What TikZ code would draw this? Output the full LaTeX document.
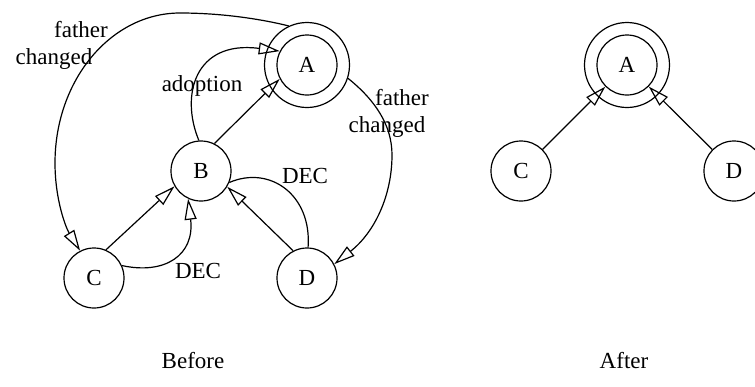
\documentclass[tikz,border=0pt]{standalone}
\usepackage{fontspec}
\setmainfont{Liberation Serif}
\usetikzlibrary{arrows.meta}
\begin{document}
\begin{tikzpicture}[x=1pt,y=-1pt,
  txt/.style={font=\fontsize{23}{27}\selectfont},
  state/.style={circle,draw,line width=1.2pt,minimum size=60pt,inner sep=0pt,txt},
  ring/.style={circle,draw,line width=1.2pt,minimum size=85pt,inner sep=0pt},
  edge/.style={line width=1.2pt,-{Triangle[open,length=21pt,width=12pt]}},
  plainedge/.style={line width=1.2pt},
  lbl/.style={anchor=base,inner sep=0pt,txt}]
\useasboundingbox (0,0) rectangle (755,386);

% ---- before ----
\node[ring]  (Aout) at (307,65) {};
\node[state] (A)    at (307,65) {A};
\node[state] (B)    at (201,171) {B};
\node[state] (C)    at (94,278) {C};
\node[state] (D)    at (307,278) {D};

% father changed, left loop to C
\draw[edge] (Aout.115) .. controls (265,20) and (225,13) .. (180,13)
  .. controls (111,13) and (55,80) .. (55,163)
  .. controls (55,200) and (66,228) .. (C.117);
% father changed, right loop to D
\draw[edge] (Aout.342) .. controls (375,100) and (392,125) .. (392,155)
  .. controls (392,195) and (375,232) .. (D.27);
% adoption
\draw[edge] (B.94) .. controls (180,95) and (195,40) .. (A.153);
\draw[edge] (B.64) -- (A.207);
% C to B
\draw[edge] (C.67) -- (B.210);
\draw[edge] (C.24) .. controls (165,275) and (195,255) .. (B.245);
% D to B
\draw[edge] (D.117) -- (B.329);
\draw[plainedge] (D.88) .. controls (312,195) and (270,165) .. (B.338);

\node[lbl] (lf1) at (81,37)  {father};
\node[lbl] (lf2) at (54,64)  {changed};
\node[lbl] (rf1) at (402,105) {father};
\node[lbl] (rf2) at (387,132) {changed};
\node[lbl] (ad)  at (202,91) {adoption};
\node[lbl] (d1)  at (305,183) {DEC};
\node[lbl] (d2)  at (198,278) {DEC};
\node[lbl] (bf)  at (193,368) {Before};

% ---- after ----
\node[ring]  (A2out) at (627,65) {};
\node[state] (A2)    at (627,65) {A};
\node[state] (C2)    at (521,171) {C};
\node[state] (D2)    at (734,171) {D};
\draw[edge] (C2) -- (A2);
\draw[edge] (D2) -- (A2);
\node[lbl] (af) at (624,368) {After};
\end{tikzpicture}
\end{document}
